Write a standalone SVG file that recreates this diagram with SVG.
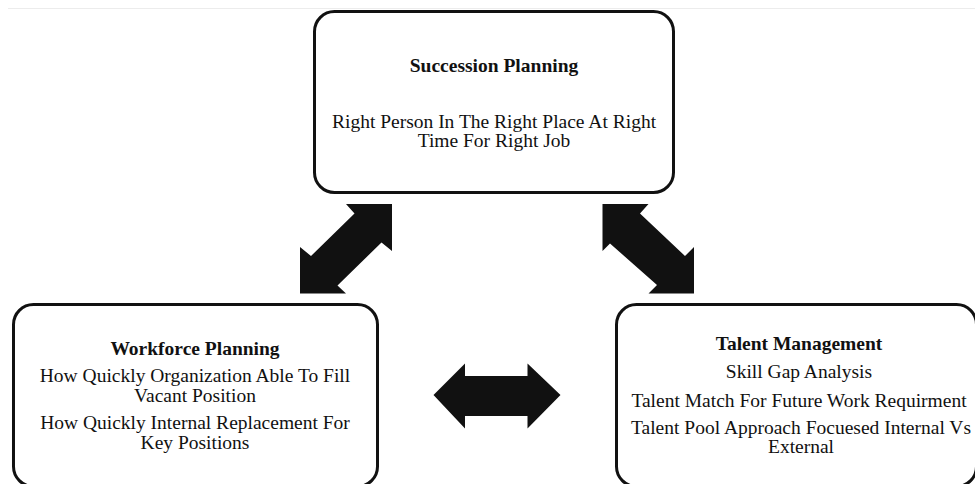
<svg xmlns="http://www.w3.org/2000/svg" width="975" height="484" viewBox="0 0 975 484">
  <style>
    .box { fill: #ffffff; stroke: #111111; stroke-width: 3; }
    .title { font-family: "Liberation Serif", "Times New Roman", serif; font-size: 19.5px; font-weight: bold; fill: #111111; text-anchor: middle; }
    .body { font-family: "Liberation Serif", "Times New Roman", serif; font-size: 19.5px; fill: #111111; text-anchor: middle; }
    .arrow { fill: #111111; }
  </style>
  <rect x="0" y="0" width="975" height="484" fill="#ffffff"/>
  <line x1="8" y1="8.5" x2="975" y2="8.5" stroke="#ececec" stroke-width="1"/>

  <g id="succession-planning">
    <rect class="box" x="314.5" y="11.5" width="359" height="181" rx="20" ry="20"/>
    <text class="title" x="494" y="72">Succession Planning</text>
    <text class="body" x="494" y="128">Right Person In The Right Place At Right</text>
    <text class="body" x="494" y="147">Time For Right Job</text>
  </g>

  <g id="workforce-planning">
    <rect class="box" x="13.5" y="304.5" width="364" height="182" rx="20" ry="20"/>
    <text class="title" x="195" y="355">Workforce Planning</text>
    <text class="body" x="195" y="381.5">How Quickly Organization Able To Fill</text>
    <text class="body" x="195" y="401.5">Vacant Position</text>
    <text class="body" x="195" y="428.5">How Quickly Internal Replacement For</text>
    <text class="body" x="195" y="448.5">Key Positions</text>
  </g>

  <g id="talent-management">
    <rect class="box" x="616.5" y="304.5" width="360" height="182" rx="20" ry="20"/>
    <text class="title" x="799" y="350">Talent Management</text>
    <text class="body" x="799" y="378">Skill Gap Analysis</text>
    <text class="body" x="799" y="406.5">Talent Match For Future Work Requirment</text>
    <text class="body" x="801" y="433.5">Talent Pool Approach Focuesed Internal Vs</text>
    <text class="body" x="801" y="453">External</text>
  </g>

  <g id="connectors">
    <!-- workforce planning <-> succession planning -->
    <polygon class="arrow" points="392,204 346,204 354.5,213.5 311,256 300,247 300,293.5 346,293.5 337.5,285.5 381.5,242.5 392,251"/>
    <!-- succession planning <-> talent management -->
    <polygon class="arrow" points="602.5,204 648.5,204 640,213.5 685,256 694,247 694,293.5 648.5,293.5 657,285 610,243.5 602.5,251"/>
    <!-- workforce planning <-> talent management -->
    <polygon class="arrow" points="433.5,395 465,363.5 465,376 527.5,376 527.5,363.5 560.5,395 527.5,428.5 527.5,416 465,416 465,428.5"/>
  </g>
</svg>
